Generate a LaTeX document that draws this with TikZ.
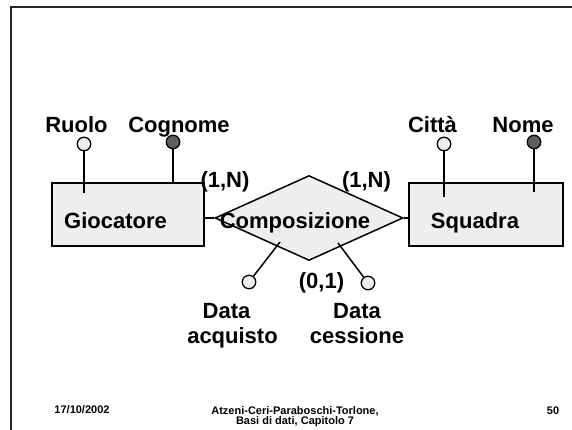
\documentclass[tikz,border=0pt]{standalone}
\usepackage{fontspec}
\setmainfont{Liberation Sans}
\usetikzlibrary{shapes.geometric}
\definecolor{boxfill}{HTML}{EEEEEE}
\definecolor{keyfill}{HTML}{5E5E5E}
\begin{document}
\begin{tikzpicture}[x=1pt,y=-1pt,
  lbl/.style={font=\fontsize{22}{24}\selectfont\bfseries, inner sep=0, anchor=base},
  foot/.style={font=\fontsize{11}{13}\selectfont\bfseries, inner sep=0, anchor=base},
  ent/.style={draw, line width=1.6pt, fill=boxfill, inner sep=0, minimum height=63},
  attr/.style={circle, draw, line width=1.3pt, fill=boxfill, minimum size=13.5, inner sep=0},
  keyattr/.style={attr, fill=keyfill},
  conn/.style={line width=1.5pt}]
\useasboundingbox (0,0) rectangle (572,430);
\fill[white] (0,0) rectangle (572,430);
% frame
\draw[line width=2pt, black!85] (572,7) -- (11,7) -- (11,430);
% entities and relationship
\node[ent, minimum width=152] (gio) at (128,214.5) {};
\node[ent, minimum width=154] (squ) at (486,214.5) {};
\node[diamond, draw, fill=boxfill, line width=1.5pt, minimum width=188, minimum height=85, inner sep=0] (rel) at (309,218) {};
\draw[conn] (rel.west) -- (rel.west -| gio.east);
\draw[conn] (rel.east) -- (rel.east -| squ.west);
% attributes
\node[attr] (ruolo) at (84,144) {};
\coordinate (ruoloE) at (84,193);
\draw[conn] (ruolo) -- (ruoloE);
\node[keyattr] (cogn) at (173,142) {};
\draw[conn] (cogn) -- (cogn |- gio.north);
\node[attr] (citta) at (444,144) {};
\coordinate (cittaE) at (444,197);
\draw[conn] (citta) -- (cittaE);
\node[keyattr] (nome) at (534,142) {};
\coordinate (nomeE) at (534,192);
\draw[conn] (nome) -- (nomeE);
\node[attr] (dacq) at (249,282) {};
\coordinate (dacqS) at (280,242);
\draw[conn] (dacqS) -- (dacq);
\node[attr] (dces) at (368,283) {};
\coordinate (dcesS) at (338,243);
\draw[conn] (dcesS) -- (dces);
% labels
\node[lbl] (tRuolo) at (76.5,133) {Ruolo};
\node[lbl] (tCogn) at (179,133) {Cognome};
\node[lbl] (tCitta) at (432.5,133) {Città};
\node[lbl] (tNome) at (523,133) {Nome};
\node[lbl] (card1) at (225,188) {(1,N)};
\node[lbl] (card2) at (366.5,188) {(1,N)};
\node[lbl] (tGio) at (115.5,228) {Giocatore};
\node[lbl] (tSqu) at (475,228) {Squadra};
\node[lbl] (tRel) at (295,228) {Composizione};
\node[lbl] (card3) at (321.5,288) {(0,1)};
\node[lbl] (tDacq1) at (226.5,318) {Data};
\node[lbl] (tDacq2) at (232.5,343) {acquisto};
\node[lbl] (tDces1) at (357,318) {Data};
\node[lbl] (tDces2) at (357,343) {cessione};
% footer
\node[foot] (fDate) at (82,413) {17/10/2002};
\node[foot] (fAuth) at (295,414) {Atzeni-Ceri-Paraboschi-Torlone,};
\node[foot] (fBook) at (295,424) {Basi di dati, Capitolo 7};
\node[foot] (fPage) at (553,414) {50};
\end{tikzpicture}
\end{document}
